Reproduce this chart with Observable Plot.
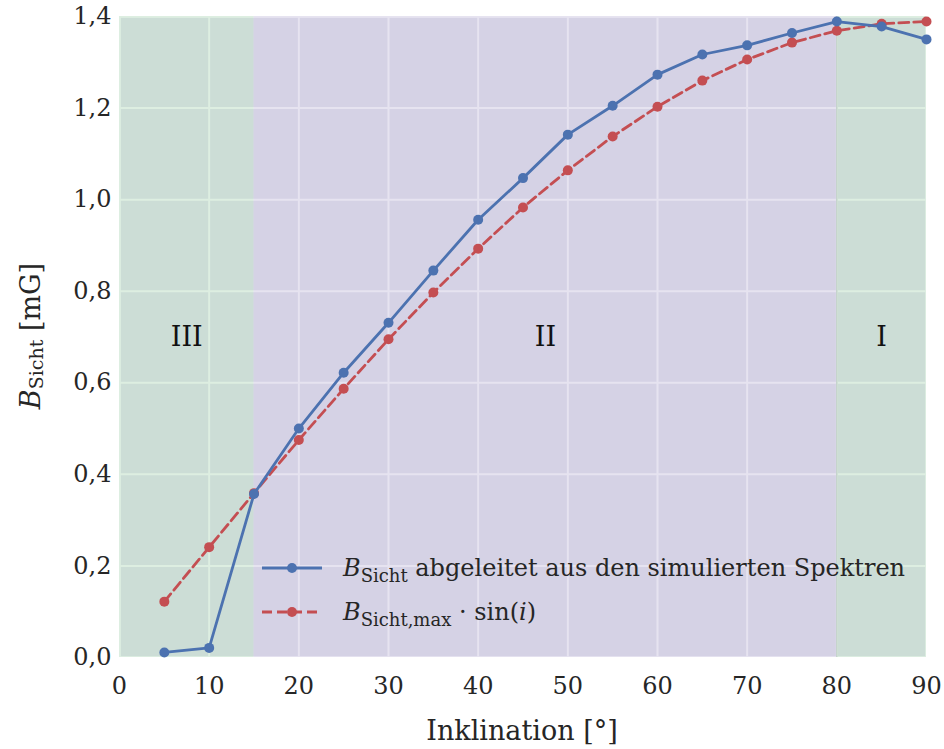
<!DOCTYPE html>
<html><head><meta charset="utf-8">
<script src="https://cdn.jsdelivr.net/npm/d3@7"></script>
<script src="https://cdn.jsdelivr.net/npm/@observablehq/plot@0.6"></script>
<style>body{margin:0;background:#fff} svg{display:block}</style>
</head><body><div id="chart"></div>
<script>
const inclination = [5,10,15,20,25,30,35,40,45,50,55,60,65,70,75,80,85,90];
const bSicht = [0.011,0.021,0.357,0.500,0.622,0.731,0.845,0.956,1.047,1.142,1.205,1.273,1.317,1.337,1.364,1.389,1.378,1.350];
const bSinus = [0.122,0.241,0.359,0.475,0.587,0.695,0.797,0.893,0.983,1.064,1.138,1.203,1.260,1.306,1.343,1.369,1.384,1.389];
const regionStart = [0,15,80];
const regionEnd = [15,80,90];
const regionLabel = ["III","II","I"];
const regionLabelValue = 0.7;
const xTicks = [0,10,20,30,40,50,60,70,80,90];
const yTicks = [0,0.2,0.4,0.6,0.8,1.0,1.2,1.4];
const legendLabels = [["B","Sicht"," abgeleitet aus den simulierten Spektren"],["B","Sicht,max"," · sin(","i",")"]];

const blue = "#4C72B0", red = "#C44E52";
const regionColors = ["#55A868","#8172B2","#55A868"];
const idx = d3.range(inclination.length);
const ridx = d3.range(regionStart.length);
const font = "DejaVu Serif";

const chart = Plot.plot({
  width: 944, height: 749,
  marginLeft: 119, marginRight: 18, marginTop: 16, marginBottom: 92,
  style: {fontFamily: font, fontSize: "24px", color: "#262626", background: "white"},
  x: {domain: [0,90]},
  y: {domain: [0,1.4]},
  marks: [
    Plot.frame({fill: "#EAEAF2"}),
    Plot.gridX(xTicks, {stroke: "white", strokeOpacity: 1, strokeWidth: 2}),
    Plot.gridY(yTicks, {stroke: "white", strokeOpacity: 1, strokeWidth: 2}),
    Plot.frame({stroke: "white", strokeWidth: 2.5}),
    Plot.rect(ridx, {x1: i => regionStart[i], x2: i => regionEnd[i], fill: i => regionColors[i], fillOpacity: 0.2}),
    Plot.ruleX([regionStart[2]], {stroke: "#b8c8c0", strokeWidth: 1}),
    Plot.text(ridx, {x: i => (regionStart[i]+regionEnd[i])/2, y: () => regionLabelValue, text: i => regionLabel[i], fontSize: 27, fill: "#111"}),
    Plot.axisX(xTicks, {tickSize: 0, tickPadding: 19, label: null, fontSize: 24}),
    Plot.axisY(yTicks, {tickSize: 0, tickPadding: 8, label: null, fontSize: 24, tickFormat: d => d.toFixed(1).replace(".", ",")}),
    Plot.line(idx, {x: i => inclination[i], y: i => bSinus[i], stroke: red, strokeWidth: 2.8, strokeDasharray: "10,5"}),
    Plot.dot(idx, {x: i => inclination[i], y: i => bSinus[i], fill: red, r: 5}),
    Plot.line(idx, {x: i => inclination[i], y: i => bSicht[i], stroke: blue, strokeWidth: 2.8}),
    Plot.dot(idx, {x: i => inclination[i], y: i => bSicht[i], fill: blue, r: 5})
  ]
});
document.getElementById("chart").appendChild(chart);

const svg = d3.select(chart);
// y-axis title
const yt = svg.append("text").attr("transform", "translate(30,336) rotate(-90)")
  .attr("text-anchor", "middle").attr("dominant-baseline", "central")
  .attr("font-family", font).attr("font-size", 27).attr("fill", "#262626");
yt.append("tspan").attr("font-style", "italic").text("B");
yt.append("tspan").attr("font-size", 19).attr("dy", 6).text("Sicht");
yt.append("tspan").attr("dy", -6).text(" [mG]");
// x-axis title
svg.append("text").attr("x", 522).attr("y", 740).attr("text-anchor", "middle")
  .attr("font-family", font).attr("font-size", 27).attr("fill", "#262626").text("Inklination [°]");

// legend
const legendColors = [blue, red];
const legendDash = [null, "10,5"];
legendLabels.forEach((parts, k) => {
  const y = 568 + k * 44;
  svg.append("line").attr("x1", 262).attr("x2", 322).attr("y1", y).attr("y2", y)
    .attr("stroke", legendColors[k]).attr("stroke-width", 2.8).attr("stroke-dasharray", legendDash[k]);
  svg.append("circle").attr("cx", 292).attr("cy", y).attr("r", 5).attr("fill", legendColors[k]);
  const t = svg.append("text").attr("x", 343).attr("y", y + 8).attr("text-anchor", "start")
    .attr("font-family", font).attr("font-size", 24).attr("fill", "#262626");
  t.append("tspan").attr("font-style", "italic").text(parts[0]);
  t.append("tspan").attr("font-size", 18).attr("dy", 6).text(parts[1]);
  t.append("tspan").attr("dy", -6).text(parts[2]);
  if (k === 1) {
    t.append("tspan").attr("font-style", "italic").text(parts[3]);
    t.append("tspan").text(parts[4]);
  }
});
</script>
</body></html>
